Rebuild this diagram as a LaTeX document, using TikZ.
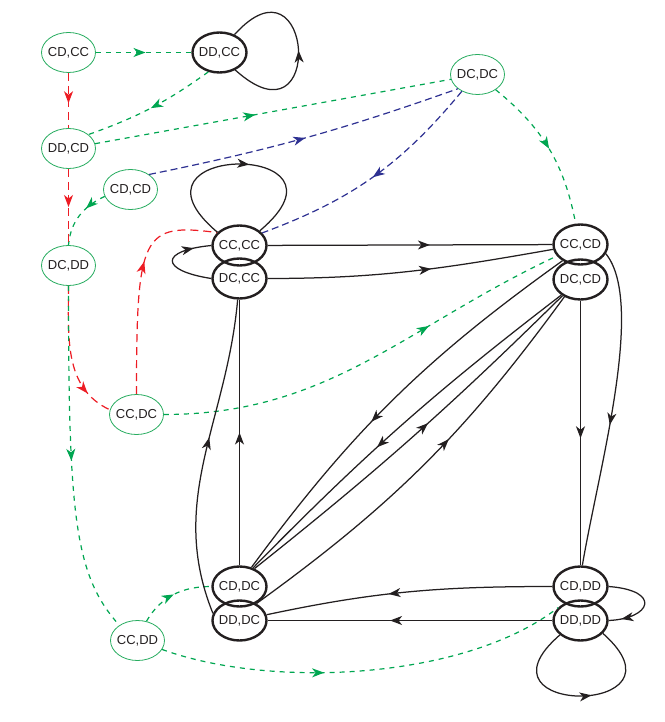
\documentclass[tikz,border=0pt]{standalone}
\usepackage{fontspec}
\setmainfont{Liberation Sans}
\usetikzlibrary{arrows.meta,shapes.geometric,decorations.markings}
\definecolor{stategreen}{RGB}{40,172,96}
\definecolor{linegreen}{RGB}{0,166,81}
\definecolor{linered}{RGB}{237,28,36}
\definecolor{lineblue}{RGB}{46,49,146}
\definecolor{inkblack}{RGB}{35,31,32}

\begin{document}
\begin{tikzpicture}[x=1pt,y=1pt,
  statenode/.style={ellipse, draw=inkblack, line width=2.4pt, inner xsep=-2pt, inner ysep=0pt,
    minimum width=54pt, minimum height=40pt, text=inkblack, font=\fontsize{13}{15}\selectfont},
  outnode/.style={statenode, draw=stategreen, line width=0.8pt},
  midarrow/.style={postaction={decorate,decoration={markings,
    mark=at position #1 with {\arrow{Stealth[length=12pt,width=9pt,inset=3.5pt]}}}}},
  blackline/.style={inkblack, line width=1.25pt},
  greenline/.style={linegreen, line width=1.2pt, dash pattern=on 5pt off 5pt},
  redline/.style={linered, line width=1.2pt, dash pattern=on 8pt off 5pt},
  blueline/.style={lineblue, line width=1.2pt, dash pattern=on 7pt off 4pt}
]
\useasboundingbox (-0.5,0.5) rectangle (663.5,-721.5);

\node[outnode] (cdcc) at (68,-52) {CD,CC};
\node[statenode] (ddcc) at (219,-52) {DD,CC};
\node[outnode] (ddcd) at (68,-148) {DD,CD};
\node[outnode] (cdcd) at (130,-189) {CD,CD};
\node[outnode] (dcdd) at (68,-265) {DC,DD};
\node[outnode] (dcdc) at (477,-74) {DC,DC};
\node[outnode] (ccdc) at (136,-414) {CC,DC};
\node[outnode] (ccdd) at (137,-640) {CC,DD};
\node[statenode] (cccc) at (239,-245) {CC,CC};
\node[statenode] (dccc) at (239,-278) {DC,CC};
\node[statenode] (cccd) at (580,-244) {CC,CD};
\node[statenode] (dccd) at (580,-279) {DC,CD};
\node[statenode] (cddc) at (239,-586) {CD,DC};
\node[statenode] (dddc) at (239,-620) {DD,DC};
\node[statenode] (cddd) at (580,-586) {CD,DD};
\node[statenode] (dddd) at (580,-620) {DD,DD};

\draw[greenline, midarrow=0.52] (cdcc) -- (ddcc);
\draw[redline, midarrow=0.55] (cdcc) -- (ddcd);
\draw[greenline, midarrow=0.5] (ddcc.240) to[bend left=8] (ddcd.35);
\draw[greenline, midarrow=0.45] (ddcd) -- (dcdc);
\draw[blueline, midarrow=0.5] (cdcd.39) to[bend right=4] (dcdc.216);
\draw[blueline, midarrow=0.5] (dcdc.227) to[bend left=15] (cccc.29);
\draw[greenline, midarrow=0.5] (dcdc.-40) to[bend left=20] (cccd.103);
\draw[greenline, midarrow=0.35] (cdcd.195) to[out=205,in=85] (dcdd.north);
\draw[redline, midarrow=0.5] (ddcd) -- (dcdd);
\draw[redline, midarrow=0.8] (dcdd.south) to[out=-90,in=155] (ccdc.170);
\draw[redline, midarrow=0.6] (ccdc.north) .. controls +(0,160) and +(-75,10) .. (cccc.150);
\draw[greenline, midarrow=0.66] (ccdc.east) to[out=0,in=205] (cccd.206);
\draw[greenline, midarrow=0.5] (dcdd.south) .. controls +(0,-230) and +(-45,50) .. (ccdd.140);
\draw[greenline, midarrow=0.5] (ccdd.65) to[out=60,in=180] (cddc.west);
\draw[greenline, midarrow=0.4] (ccdd.-20) to[out=-20,in=218,looseness=0.75] (dddd.150);

\draw[blackline, midarrow=0.5] (ddcc.-48) .. controls +(-42:122) and +(48:118) .. (ddcc.50);
\draw[blackline, midarrow=0.55] (cccc.149) .. controls +(140:140) and +(40:140) .. (cccc.36);
\draw[blackline, midarrow=0.8] (dccc.west) .. controls +(-52,8) and +(-52,-5) .. (cccc.west);
\draw[blackline, midarrow=0.57] (cccc) -- (cccd);
\draw[blackline, midarrow=0.57] (dccc.east) to[out=0,in=190] (cccd.190);
\draw[blackline, midarrow=0.5] (cddc) -- (dccc);
\draw[blackline, midarrow=0.56] (dddc.165) to[out=112,in=-95] (dccc.265);
\draw[blackline, midarrow=0.55] (cccd.-20) .. controls +(40,-50) and +(16,95) .. (cddd.85);
\draw[blackline, midarrow=0.52] (dccd) -- (cddd);
\draw[blackline, midarrow=0.57] (cccd.222) to[bend right=9] (cddc.58);
\draw[blackline, midarrow=0.58] (dccd.219) to[bend right=4] (cddc.54);
\draw[blackline, midarrow=0.55] (cddc.50) to[bend right=3] (dccd.222);
\draw[blackline, midarrow=0.58] (dddc.45) to[bend right=9] (dccd.227);
\draw[blackline, midarrow=0.57] (cddd.west) to[out=180,in=12] (dddc.12);
\draw[blackline, midarrow=0.57] (dddd) -- (dddc);
\draw[blackline, midarrow=0.85] (cddd.east) .. controls +(53,-4) and +(43,2) .. (dddd.east);
\draw[blackline, midarrow=0.55] (dddd.215) .. controls +(-95,-82) and +(94,-83) .. (dddd.-30);
\end{tikzpicture}
\end{document}
